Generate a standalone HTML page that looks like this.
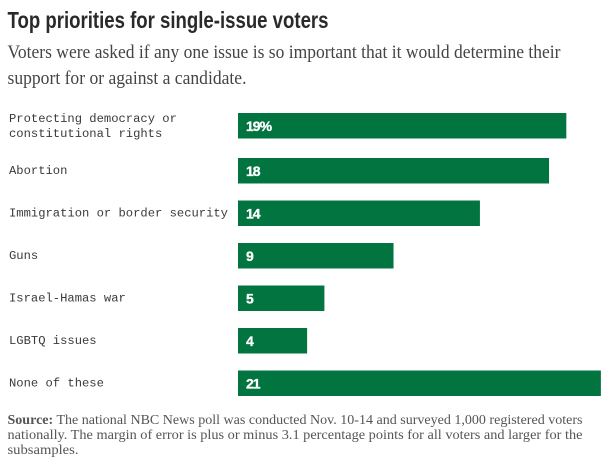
<!DOCTYPE html>
<html>
<head>
<meta charset="utf-8">
<style>
html,body{margin:0;padding:0;background:#fff;width:607px;height:463px;overflow:hidden}
svg{display:block}
.title{font:bold 23px "Liberation Sans",sans-serif;fill:#2a2a2a}
.sub{font:19px "Liberation Serif",serif;fill:#444}
.cat{font:11.5px "Liberation Mono",monospace;fill:#3a3a3a}
.val{font:bold 14px "Liberation Sans",sans-serif;fill:#fff;stroke:#fff;stroke-width:.3px;letter-spacing:-1px}
.src{font:14px "Liberation Serif",serif;fill:#555}
</style>
</head>
<body>
<svg id="chart" width="607" height="463" viewBox="0 0 607 463" xmlns="http://www.w3.org/2000/svg">
<text class="title" x="7.5" y="28" textLength="321" lengthAdjust="spacingAndGlyphs">Top priorities for single-issue voters</text>
<text class="sub" x="7.5" y="58" textLength="553" lengthAdjust="spacingAndGlyphs">Voters were asked if any one issue is so important that it would determine their</text>
<text class="sub" x="7.5" y="84" textLength="239" lengthAdjust="spacingAndGlyphs">support for or against a candidate.</text>
<g id="bars"></g>
<text class="src" x="7.5" y="424" textLength="575" lengthAdjust="spacingAndGlyphs"><tspan font-weight="bold">Source:</tspan> The national NBC News poll was conducted Nov. 10-14 and surveyed 1,000 registered voters</text>
<text class="src" x="7.5" y="439" textLength="575" lengthAdjust="spacingAndGlyphs">nationally. The margin of error is plus or minus 3.1 percentage points for all voters and larger for the</text>
<text class="src" x="7.5" y="454" textLength="71" lengthAdjust="spacingAndGlyphs">subsamples.</text>
</svg>
<script>
const categories = [
  ["Protecting democracy or", "constitutional rights"],
  ["Abortion"],
  ["Immigration or border security"],
  ["Guns"],
  ["Israel-Hamas war"],
  ["LGBTQ issues"],
  ["None of these"]
];
const values = [19, 18, 14, 9, 5, 4, 21];
const valueLabels = ["19%", "18", "14", "9", "5", "4", "21"];

const NS = "http://www.w3.org/2000/svg";
const group = document.getElementById("bars");
const xZero = 238;
const unitWidth = 17.28;
const firstBarTop = 113;
const rowStep = 42.5;
const wrappedRowExtra = 2.5;
const barHeight = 25.5;
const charWidth = 7.3;
function xScale(v) { return v * unitWidth; }
function yScale(i) {
  let y = firstBarTop;
  for (let k = 0; k < i; k++) {
    y += rowStep + (categories[k].length > 1 ? wrappedRowExtra : 0);
  }
  return y;
}

values.forEach(function (v, i) {
  const y = yScale(i);
  const rect = document.createElementNS(NS, "rect");
  
  
  rect.setAttribute("x", xZero);
  rect.setAttribute("y", y);
  rect.setAttribute("width", xScale(v));
  rect.setAttribute("height", barHeight);
  rect.setAttribute("fill", "#017440");
  group.appendChild(rect);

  const label = document.createElementNS(NS, "text");
  
  
  label.setAttribute("class", "val");
  label.setAttribute("x", xZero + 8);
  label.setAttribute("y", y + 18);
  label.textContent = valueLabels[i];
  group.appendChild(label);

  const lines = categories[i];
  lines.forEach(function (line, j) {
    const t = document.createElementNS(NS, "text");
    
    
    t.setAttribute("class", "cat");
    t.setAttribute("x", 9);
    t.setAttribute("y", lines.length > 1 ? y + 9 + j * 15 : y + 16);
    t.setAttribute("textLength", line.length * charWidth);
    t.setAttribute("lengthAdjust", "spacingAndGlyphs");
    t.textContent = line;
    group.appendChild(t);
  });
});
</script>
</body>
</html>
